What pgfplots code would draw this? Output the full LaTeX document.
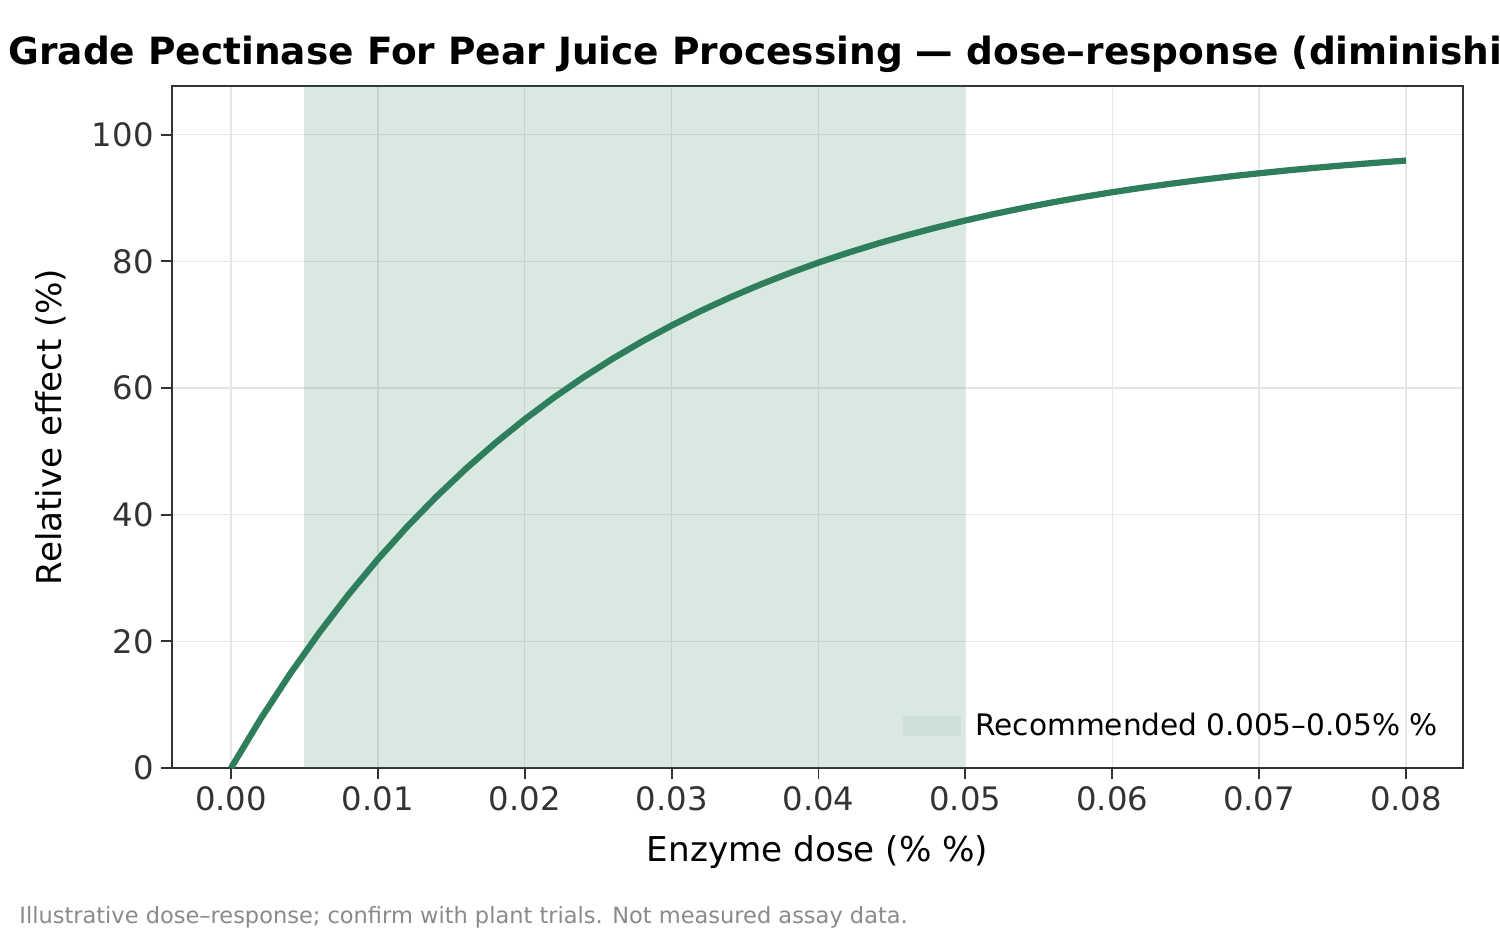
\documentclass[border=0pt]{standalone}
\usepackage{fontspec}
\setmainfont{DejaVu Sans}
\usepackage{pgfplots}
\usepackage{pgfplotstable}
\pgfplotsset{compat=1.18}
\definecolor{curve}{HTML}{2E7D5B}
\definecolor{framec}{HTML}{333333}
\definecolor{gridc}{HTML}{E6E6E6}
\definecolor{tickc}{HTML}{333333}
\definecolor{footc}{HTML}{8A8A8A}
\pgfplotstableread{
x y
0.000 0.000
0.002 7.688
0.004 14.786
0.006 21.337
0.008 27.385
0.010 32.968
0.012 38.122
0.014 42.879
0.016 47.271
0.018 51.325
0.020 55.067
0.022 58.522
0.024 61.711
0.026 64.654
0.028 67.372
0.030 69.881
0.032 72.196
0.034 74.334
0.036 76.307
0.038 78.129
0.040 79.810
0.042 81.363
0.044 82.796
0.046 84.118
0.048 85.339
0.050 86.466
0.052 87.507
0.054 88.468
0.056 89.354
0.058 90.173
0.060 90.928
0.062 91.626
0.064 92.270
0.066 92.864
0.068 93.413
0.070 93.919
0.072 94.387
0.074 94.818
0.076 95.217
0.078 95.584
0.080 95.924
}\curvedata
\pgfplotstableread{
x y
0.005 107.7
0.050 107.7
}\banddata
\begin{document}
\begin{tikzpicture}
\begin{axis}[
  at={(0,0)}, anchor=south west,
  scale only axis, width=619.68pt, height=327.36pt,
  xmin=-0.004017, xmax=0.08388, ymin=0, ymax=107.7,
  xtick={0,0.01,0.02,0.03,0.04,0.05,0.06,0.07,0.08},
  xticklabels={0.00,0.01,0.02,0.03,0.04,0.05,0.06,0.07,0.08},
  ytick={0,20,40,60,80,100},
  scaled x ticks=false,
  xtick pos=bottom, ytick pos=left,
  grid=major, grid style={gridc, line width=0.7pt},
  axis line style={framec, line width=1.1pt},
  tick align=outside, major tick length=5.3pt,
  tick style={framec, line width=0.9pt},
  ticklabel style={font=\fontsize{15.5}{18}\selectfont, text=tickc},
  /pgf/number format/assume math mode=true,
  xlabel={Enzyme dose (\% \%)}, ylabel={Relative effect (\%)},
  label style={font=\fontsize{16.4}{19}\selectfont, text=black},
  xlabel style={at={(axis description cs:0.5,-0.1378)}, anchor=base},
  ylabel style={at={(axis description cs:-0.0852,0.5)}, anchor=base},
  legend style={at={(0.989,0.03)}, anchor=south east, draw=none, fill=none,
    font=\fontsize{14.2}{16}\selectfont, legend cell align=left,
    /tikz/every even column/.append style={column sep=0pt}},
  legend image code/.code={\fill[curve, opacity=0.07] (0pt,-5pt) rectangle (27.8pt,5pt);},
]
\addplot[draw=none, fill=curve, fill opacity=0.18] table {\banddata} \closedcycle;
\addlegendentry{\hspace{5pt}Recommended 0.005–0.05\% \%}
\addplot[curve, line width=3pt, forget plot] table {\curvedata};
\end{axis}
\node[anchor=base west, inner sep=0pt, font=\bfseries\fontsize{18}{21}\selectfont] at (-78.72pt,337.5pt)
  {Grade Pectinase For Pear Juice Processing — dose–response (diminishing returns)};
\node[anchor=base west, inner sep=0pt, font=\fontsize{10.8}{12}\selectfont, text=footc] at (-73.44pt,-74.4pt)
  {Illustrative dose–response; confirm with plant trials. Not measured assay data.};
\pgfresetboundingbox
\useasboundingbox (-82.56pt,-81.12pt) rectangle (637.44pt,368.64pt);
\end{tikzpicture}
\end{document}
